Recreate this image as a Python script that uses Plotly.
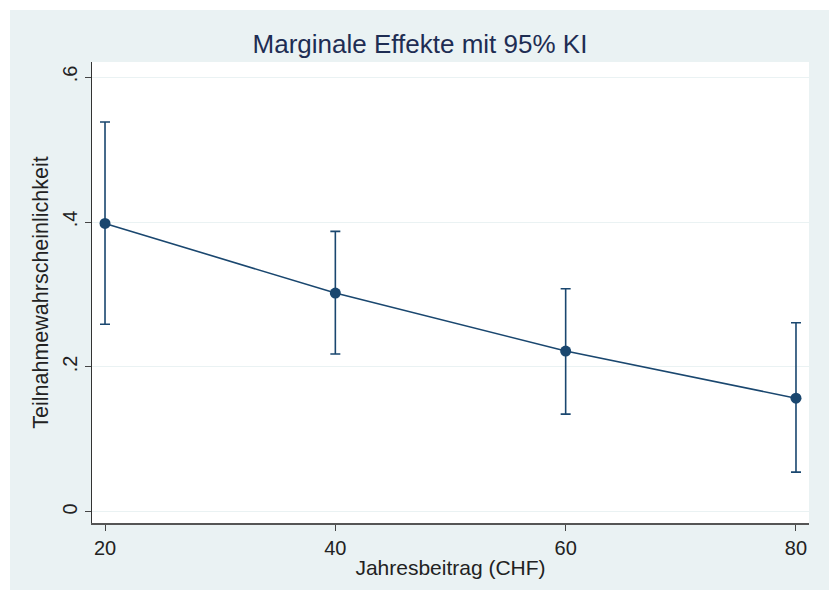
import plotly.graph_objects as go

# Data
beitrag = [20, 40, 60, 80]
prob = [0.398, 0.302, 0.222, 0.157]
ci_low = [0.259, 0.218, 0.135, 0.055]
ci_high = [0.538, 0.387, 0.308, 0.261]
y_ticks = [0, 0.2, 0.4, 0.6]
y_ticklabels = ["0", ".2", ".4", ".6"]
x_ticks = [20, 40, 60, 80]

navy = "#1a476f"
bg = "#eaf2f3"

err_plus = [h - p for h, p in zip(ci_high, prob)]
err_minus = [p - l for p, l in zip(prob, ci_low)]

fig = go.Figure()
fig.add_trace(go.Scatter(
    x=beitrag, y=prob, mode="lines+markers",
    line=dict(color=navy, width=1.6),
    marker=dict(color=navy, size=11),
    error_y=dict(type="data", symmetric=False, array=err_plus, arrayminus=err_minus,
                 color=navy, thickness=1.6, width=5),
    showlegend=False,
))

L, R, T, B = 92, 26, 62, 75
W, H = 835, 598
pw, ph = W - L - R, H - T - B

def px_x(x):
    return (x - L) / pw

def px_y(y):
    return (H - B - y) / ph

fig.add_shape(type="rect", xref="paper", yref="paper",
              x0=px_x(10), x1=px_x(829), y0=px_y(590), y1=px_y(10),
              fillcolor=bg, line=dict(width=0), layer="below")
fig.add_shape(type="rect", xref="paper", yref="paper",
              x0=0, x1=1, y0=0, y1=1,
              fillcolor="white", line=dict(width=0), layer="below")

font_family = "Liberation Sans, Arial, sans-serif"
fig.update_layout(
    width=W, height=H,
    margin=dict(l=L, r=R, t=T, b=B),
    paper_bgcolor="white", plot_bgcolor="white",
    font=dict(family=font_family, size=20, color="#222222"),
    title=dict(text="Marginale Effekte mit 95% KI", x=420 / W,
               xanchor="center", xref="container", y=1 - 44 / H, yref="container",
               yanchor="middle",
               font=dict(size=26, color="#1e2d53")),
    xaxis=dict(range=[18.87, 81.13], tickvals=x_ticks, showgrid=False, zeroline=False,
               showline=True, linecolor="#555555", linewidth=2,
               ticks="outside", ticklen=6, tickcolor="#444444",
               title=dict(text="Jahresbeitrag (CHF)", standoff=2, font=dict(size=21)),
               tickfont=dict(size=20)),
    yaxis=dict(range=[-0.0152, 0.6207], tickvals=y_ticks, ticktext=y_ticklabels,
               tickangle=-90, showgrid=True, gridcolor=bg, gridwidth=1.2, zeroline=False,
               showline=True, linecolor="#333333", linewidth=1.2,
               ticks="outside", ticklen=6, tickcolor="#444444",
               title=dict(text="Teilnahmewahrscheinlichkeit", standoff=4, font=dict(size=21.5)),
               tickfont=dict(size=20)),
)

fig.write_html("out.html", config={"displayModeBar": False},
               post_script="document.body.style.margin='0';document.body.style.overflow='hidden';")
